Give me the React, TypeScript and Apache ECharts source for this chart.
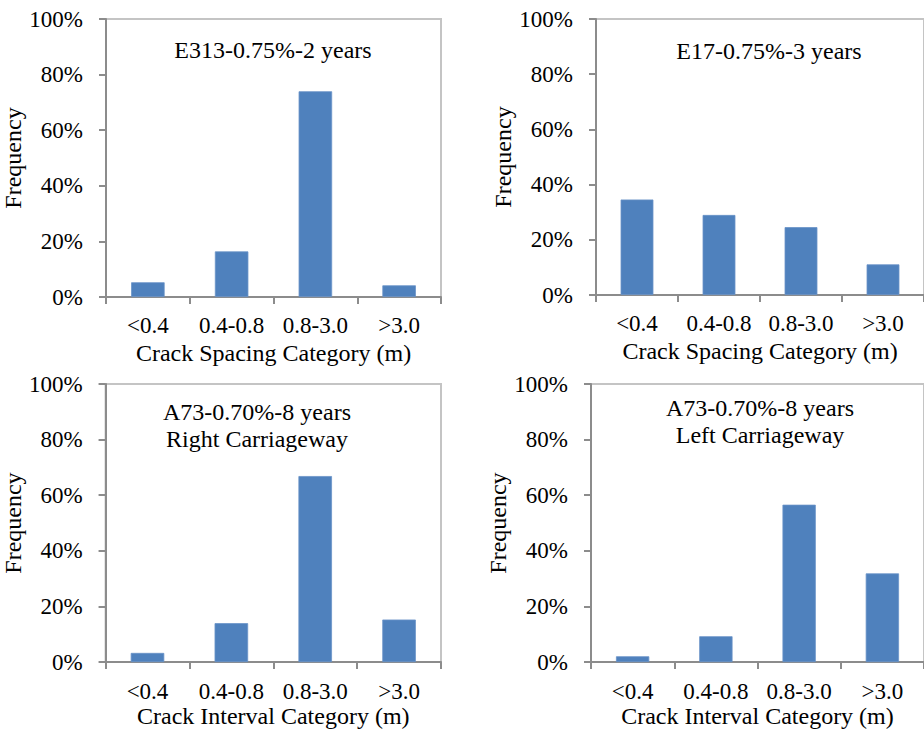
import React, { useEffect, useRef } from "react";
import * as echarts from "echarts";

const categories = ["<0.4", "0.4-0.8", "0.8-3.0", ">3.0"];
const e313Values = [5.3, 16.4, 74.0, 4.2];
const e17Values = [34.6, 29.0, 24.6, 11.1];
const a73RightValues = [3.3, 14.0, 66.9, 15.3];
const a73LeftValues = [2.1, 9.3, 56.6, 31.9];
const panelTitles = [
  "E313-0.75%-2 years",
  "E17-0.75%-3 years",
  "A73-0.70%-8 years\nRight Carriageway",
  "A73-0.70%-8 years\nLeft Carriageway",
];
const xAxisNames = [
  "Crack Spacing Category (m)",
  "Crack Spacing Category (m)",
  "Crack Interval Category (m)",
  "Crack Interval Category (m)",
];
const yAxisName = "Frequency";
const yTicks = { min: 0, max: 100, interval: 20 };

const FONT = "'Liberation Serif', 'Times New Roman', serif";

export default function App() {
  const ref = useRef<HTMLDivElement>(null);
  useEffect(() => {
    if (!ref.current) return;
    const chart = echarts.init(ref.current, undefined, { renderer: "svg" });
    const grids = [
      { left: 106, top: 19, width: 335, height: 278 },
      { left: 596, top: 19, width: 336, height: 276 },
      { left: 103, top: 384, width: 338, height: 280 },
      { left: 591, top: 384, width: 341, height: 280 },
    ];
    const seriesData = [e313Values, e17Values, a73RightValues, a73LeftValues];
    const labelMargins = [17, 17, 18, 18];
    const nameGaps = [44, 44, 41, 41];
    const titlePos = [
      [273, 50],
      [769, 51],
      [257, 425],
      [760, 421],
    ];
    const axisLineColor = "#8c8c8c";
    const option: any = {
      animation: false,
      backgroundColor: "#ffffff",
      grid: grids.map((g) => ({
        ...g,
        show: true,
        borderColor: "#c4c4c4",
        borderWidth: 2,
        backgroundColor: "transparent",
      })),
      xAxis: grids.map((_, i) => ({
        type: "category",
        gridIndex: i,
        data: categories,
        boundaryGap: true,
        axisLine: { show: true, lineStyle: { color: axisLineColor, width: 2 } },
        axisTick: { show: true, length: 7, alignWithLabel: false, lineStyle: { color: axisLineColor, width: 2 } },
        axisLabel: { color: "#000", fontFamily: FONT, fontSize: 23, margin: labelMargins[i], interval: 0 },
        name: xAxisNames[i],
        nameLocation: "middle",
        nameGap: nameGaps[i],
        nameTextStyle: { color: "#000", fontFamily: FONT, fontSize: 24 },
        splitLine: { show: false },
      })),
      yAxis: grids.map((_, i) => ({
        type: "value",
        gridIndex: i,
        min: yTicks.min,
        max: yTicks.max,
        interval: yTicks.interval,
        axisLine: { show: true, lineStyle: { color: axisLineColor, width: 2 } },
        axisTick: { show: true, length: 7, lineStyle: { color: axisLineColor, width: 2 } },
        axisLabel: { color: "#000", fontFamily: FONT, fontSize: 23, margin: 23, formatter: "{value}%" },
        splitLine: { show: false },
        name: yAxisName,
        nameLocation: "middle",
        nameRotate: 90,
        nameGap: 68,
        nameTextStyle: { color: "#000", fontFamily: FONT, fontSize: 24 },
      })),
      series: seriesData.map((d, i) => ({
        type: "bar",
        xAxisIndex: i,
        yAxisIndex: i,
        data: d,
        barWidth: "40%",
        itemStyle: { color: "#4f81bd", borderColor: "#6a93c8", borderWidth: 0.8 },
      })),
      graphic: panelTitles.map((t, i) => ({
        type: "text",
        x: titlePos[i][0],
        y: titlePos[i][1],
        style: {
          text: t,
          fill: "#000",
          font: `24px ${FONT}`,
          fontSize: 24,
          fontFamily: FONT,
          lineHeight: 27,
          align: "center",
          verticalAlign: "middle",
          textAlign: "center",
          textVerticalAlign: "middle",
        },
      })),
    };
    chart.setOption(option);
    return () => chart.dispose();
  }, []);
  return (
    <div
      ref={ref}
      style={{ position: "absolute", left: 0, top: 0, width: 924, height: 729, background: "#fff" }}
    />
  );
}
